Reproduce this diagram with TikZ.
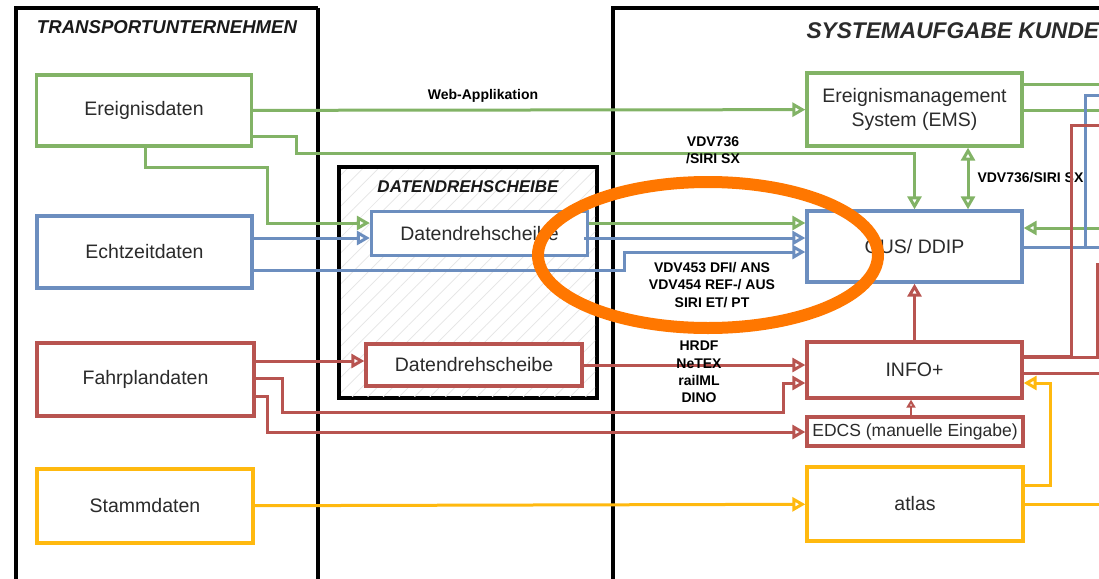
\documentclass[tikz,border=0pt]{standalone}
\usepackage{fontspec}
\setmainfont{Liberation Sans}
\usetikzlibrary{arrows.meta, patterns.meta}

\definecolor{grn}{HTML}{82B366}
\definecolor{blu}{HTML}{6C8EBF}
\definecolor{rd}{HTML}{B85450}
\definecolor{ylw}{HTML}{FFB90F}
\definecolor{orng}{HTML}{FF7700}
\definecolor{txt}{HTML}{2B2B2B}

\newcommand{\boxfont}{\fontsize{19.5}{24}\selectfont}
\newcommand{\lblfont}{\fontsize{14}{17.3}\selectfont\bfseries}

\begin{document}
\begin{tikzpicture}[x=1pt, y=-1pt, >={Triangle[open,length=13pt,width=14pt]},
  box/.style={draw, line width=3.3pt, fill=white, text=txt, font=\boxfont,
    align=center, inner sep=0pt},
  wall/.style={line width=3.5pt, black},
  flow/.style={line width=3pt},
  lbl/.style={font=\lblfont, align=center, text=black},
  ttl/.style={font=\fontsize{18.6}{22}\selectfont\bfseries\itshape, text=black!90}]
  \useasboundingbox (0,0) rectangle (1099,578);
  % containers
  \draw[wall] (16,600) -- (16,8) -- (318,8);
  \draw[line width=4.5pt] (318,8) -- (318,600);
  \draw[line width=4pt] (613,600) -- (613,8) -- (1110,8);
  \draw[wall, fill=white] (339,167) rectangle (597,398);
  \fill[pattern={Lines[angle=45,distance=11pt,line width=0.7pt]}, pattern color=black!10]
    (341,169) rectangle (595,396);
  \node[ttl] (tuTitle) at (167,27) {TRANSPORTUNTERNEHMEN};
  \node[ttl, font=\fontsize{17}{20}\selectfont\bfseries\itshape] (ddsTitle) at (468,187) {DATENDREHSCHEIBE};
  \node[ttl, anchor=west, font=\fontsize{22.7}{26}\selectfont\bfseries\itshape, text=txt]
    (skTitle) at (803,31) {SYSTEMAUFGABE KUNDE};

  % boxes left
  \node[box, draw=grn, minimum width=215, minimum height=71] (ereig) at (144,110.5) {Ereignisdaten};
  \node[box, draw=blu, minimum width=215, minimum height=72] (echt) at (144.5,252) {Echtzeitdaten};
  \node[box, draw=rd, minimum width=217, minimum height=73] (fahr) at (145.5,379.5) {Fahrplandaten};
  \node[box, draw=ylw, minimum width=216, minimum height=74] (stamm) at (145,506) {Stammdaten};
  % boxes middle
  \node[box, draw=blu, minimum width=216, minimum height=44] (dds1) at (479.5,233.5) {Datendrehscheibe};
  \node[box, draw=rd, minimum width=216, minimum height=42] (dds2) at (474,365) {Datendrehscheibe};
  % boxes right
  \node[box, draw=grn, minimum width=215, minimum height=73] (ems) at (914.5,109.5)
    {Ereignismanagement\\System (EMS)};
  \node[box, draw=blu, minimum width=215, minimum height=71] (gus) at (914.5,246.5) {GUS/ DDIP};
  \node[box, draw=rd, minimum width=215, minimum height=56] (info) at (914.5,370) {INFO+};
  \node[box, draw=rd, minimum width=216, minimum height=29, font=\fontsize{17.5}{21}\selectfont]
    (edcs) at (915,431.5) {EDCS (manuelle Eingabe)};
  \node[box, draw=ylw, minimum width=216, minimum height=74] (atlas) at (915,504) {atlas};

  % green flows
  \draw[flow, grn, ->] (ereig) -- (ems);
  \draw[flow, grn, ->] (ereig.east |- 0,136) -- (296,136) -- (296,153) -| (gus.north);
  \draw[flow, grn, ->] (ereig.south -| 145,0) -- (145,167) -- (267,167) -- (267,223)
    -- (dds1.west |- 0,223);
  \draw[flow, grn, ->] (dds1.east |- 0,223) -- (gus.west |- 0,223);
  \draw[flow, grn, <->] (ems.south -| 968,0) -- (gus.north -| 968,0);
  \draw[flow, grn] (ems.east |- 0,84) -- (1105,84);
  \draw[flow, grn] (ems.east |- 0,110) -- (1105,110);
  \draw[flow, grn, ->] (1105,228) -- (gus.east |- 0,228);
  \node[lbl] (webLbl) at (483,96) {Web-Applikation};
  \node[lbl] (sxLbl) at (713,150) {VDV736\\/SIRI SX};
  \node[lbl, anchor=west] (sxLbl2) at (974,178) {VDV736/SIRI SX};

  % blue flows
  \draw[flow, blu, ->] (echt.east |- 0,238) -- (dds1.west |- 0,238);
  \draw[flow, blu, ->] ([xshift=-5pt]dds1.east |- 0,238) -- (gus.west |- 0,238);
  \draw[flow, blu, ->] (echt.east |- 0,270) -- (624,270) -- (624,252) -- (gus.west |- 0,252);
  \draw[flow, blu] (gus.east |- 0,247) -- (1105,247);
  \draw[flow, blu] (1085,247) -- (1085,95) -- (1105,95);
  \node[lbl] (vdvLbl) at (712,285) {VDV453 DFI/ ANS\\VDV454 REF-/ AUS\\SIRI ET/ PT};

  % red flows
  \draw[flow, rd, ->] (fahr.east |- 0,361) -- (dds2.west |- 0,361);
  \draw[flow, rd, ->] (dds2.east |- 0,365) -- (info.west |- 0,365);
  \draw[flow, rd, ->] (fahr.east |- 0,378) -- (282,378) -- (282,412) -- (783,412) -- (783,383)
    -- (info.west |- 0,383);
  \draw[flow, rd, ->] (fahr.east |- 0,396) -- (267,396) -- (267,432) -- (edcs.west |- 0,432);
  \draw[flow, rd, ->] (info) -- (gus);
  \draw[flow, rd, line width=2.2pt, -{Triangle[open,length=8pt,width=9pt]}]
    (edcs.north -| 911,0) -- (info.south -| 911,0);
  \draw[flow, rd, line width=4pt] (info.east |- 0,357) -- (1071,357);
  \draw[flow, rd] (1071,357) -- (1071,125) -- (1105,125);
  \draw[flow, rd] (1071,357) -- (1097,357) -- (1097,264) -- (1105,264);
  \draw[flow, rd] (info.east |- 0,373) -- (1105,373);
  \node[lbl] (fmtLbl) at (699,372) {HRDF\\NeTEX\\railML\\DINO};

  % yellow flows
  \draw[flow, ylw, ->] (stamm) -- (atlas);
  \draw[flow, ylw, ->] (atlas.east |- 0,485) -- (1050,485) -- (1050,383) -- (info.east |- 0,383);
  \draw[flow, ylw] (atlas.east |- 0,504) -- (1105,504);

  % highlight
  \draw[orng, line width=12pt] (708,255) ellipse [x radius=170, y radius=73];
\end{tikzpicture}
\end{document}
